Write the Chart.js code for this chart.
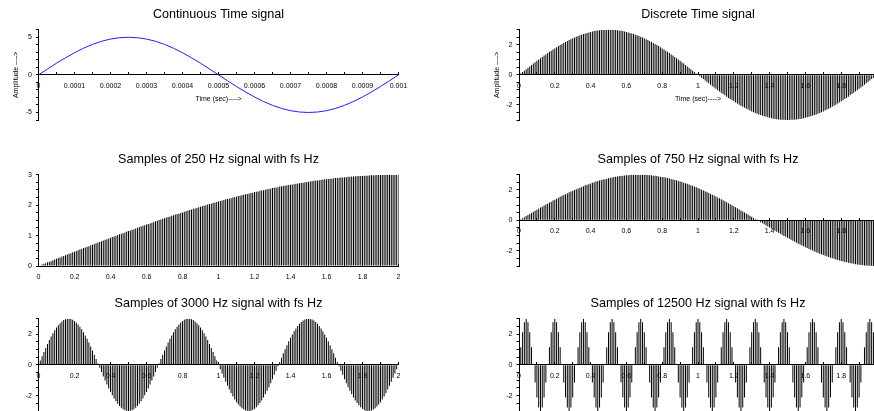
<!DOCTYPE html>
<html>
<head>
<meta charset="utf-8">
<script src="https://cdn.jsdelivr.net/npm/chart.js@4.4.1/dist/chart.umd.min.js"></script>
<style>
  html, body { margin: 0; padding: 0; background: #fff; overflow: hidden; width: 874px; height: 411px; }
  canvas { position: absolute; }
</style>
</head>
<body>
<canvas id="c1" width="440" height="140" style="left:0px;top:0px"></canvas>
<canvas id="c2" width="440" height="140" style="left:440px;top:0px"></canvas>
<canvas id="c3" width="440" height="140" style="left:0px;top:145px"></canvas>
<canvas id="c4" width="440" height="140" style="left:440px;top:145px"></canvas>
<canvas id="c5" width="440" height="140" style="left:0px;top:289px"></canvas>
<canvas id="c6" width="440" height="140" style="left:440px;top:289px"></canvas>
<script>
// sample instants (sec) shared by the five stem plots
const tSample = [
  0, 0.01, 0.02, 0.03, 0.04, 0.05, 0.06, 0.07, 0.08, 0.09,
  0.1, 0.11, 0.12, 0.13, 0.14, 0.15, 0.16, 0.17, 0.18, 0.19,
  0.2, 0.21, 0.22, 0.23, 0.24, 0.25, 0.26, 0.27, 0.28, 0.29,
  0.3, 0.31, 0.32, 0.33, 0.34, 0.35, 0.36, 0.37, 0.38, 0.39,
  0.4, 0.41, 0.42, 0.43, 0.44, 0.45, 0.46, 0.47, 0.48, 0.49,
  0.5, 0.51, 0.52, 0.53, 0.54, 0.55, 0.56, 0.57, 0.58, 0.59,
  0.6, 0.61, 0.62, 0.63, 0.64, 0.65, 0.66, 0.67, 0.68, 0.69,
  0.7, 0.71, 0.72, 0.73, 0.74, 0.75, 0.76, 0.77, 0.78, 0.79,
  0.8, 0.81, 0.82, 0.83, 0.84, 0.85, 0.86, 0.87, 0.88, 0.89,
  0.9, 0.91, 0.92, 0.93, 0.94, 0.95, 0.96, 0.97, 0.98, 0.99,
  1, 1.01, 1.02, 1.03, 1.04, 1.05, 1.06, 1.07, 1.08, 1.09,
  1.1, 1.11, 1.12, 1.13, 1.14, 1.15, 1.16, 1.17, 1.18, 1.19,
  1.2, 1.21, 1.22, 1.23, 1.24, 1.25, 1.26, 1.27, 1.28, 1.29,
  1.3, 1.31, 1.32, 1.33, 1.34, 1.35, 1.36, 1.37, 1.38, 1.39,
  1.4, 1.41, 1.42, 1.43, 1.44, 1.45, 1.46, 1.47, 1.48, 1.49,
  1.5, 1.51, 1.52, 1.53, 1.54, 1.55, 1.56, 1.57, 1.58, 1.59,
  1.6, 1.61, 1.62, 1.63, 1.64, 1.65, 1.66, 1.67, 1.68, 1.69,
  1.7, 1.71, 1.72, 1.73, 1.74, 1.75, 1.76, 1.77, 1.78, 1.79,
  1.8, 1.81, 1.82, 1.83, 1.84, 1.85, 1.86, 1.87, 1.88, 1.89,
  1.9, 1.91, 1.92, 1.93, 1.94, 1.95, 1.96, 1.97, 1.98, 1.99,
  2
];

const sigDiscrete = [
  0, 0.09, 0.19, 0.28, 0.38, 0.47, 0.56, 0.65, 0.75, 0.84,
  0.93, 1.02, 1.10, 1.19, 1.28, 1.36, 1.45, 1.53, 1.61, 1.69,
  1.76, 1.84, 1.91, 1.98, 2.05, 2.12, 2.19, 2.25, 2.31, 2.37,
  2.43, 2.48, 2.53, 2.58, 2.63, 2.67, 2.71, 2.75, 2.79, 2.82,
  2.85, 2.88, 2.91, 2.93, 2.95, 2.96, 2.98, 2.99, 2.99, 3,
  3, 3, 2.99, 2.99, 2.98, 2.96, 2.95, 2.93, 2.91, 2.88,
  2.85, 2.82, 2.79, 2.75, 2.71, 2.67, 2.63, 2.58, 2.53, 2.48,
  2.43, 2.37, 2.31, 2.25, 2.19, 2.12, 2.05, 1.98, 1.91, 1.84,
  1.76, 1.69, 1.61, 1.53, 1.45, 1.36, 1.28, 1.19, 1.10, 1.02,
  0.93, 0.84, 0.75, 0.65, 0.56, 0.47, 0.38, 0.28, 0.19, 0.09,
  0, -0.09, -0.19, -0.28, -0.38, -0.47, -0.56, -0.65, -0.75, -0.84,
  -0.93, -1.02, -1.10, -1.19, -1.28, -1.36, -1.45, -1.53, -1.61, -1.69,
  -1.76, -1.84, -1.91, -1.98, -2.05, -2.12, -2.19, -2.25, -2.31, -2.37,
  -2.43, -2.48, -2.53, -2.58, -2.63, -2.67, -2.71, -2.75, -2.79, -2.82,
  -2.85, -2.88, -2.91, -2.93, -2.95, -2.96, -2.98, -2.99, -2.99, -3,
  -3, -3, -2.99, -2.99, -2.98, -2.96, -2.95, -2.93, -2.91, -2.88,
  -2.85, -2.82, -2.79, -2.75, -2.71, -2.67, -2.63, -2.58, -2.53, -2.48,
  -2.43, -2.37, -2.31, -2.25, -2.19, -2.12, -2.05, -1.98, -1.91, -1.84,
  -1.76, -1.69, -1.61, -1.53, -1.45, -1.36, -1.28, -1.19, -1.10, -1.02,
  -0.93, -0.84, -0.75, -0.65, -0.56, -0.47, -0.38, -0.28, -0.19, -0.09,
  0
];

const sig250 = [
  0, 0.02, 0.05, 0.07, 0.09, 0.12, 0.14, 0.16, 0.19, 0.21,
  0.24, 0.26, 0.28, 0.31, 0.33, 0.35, 0.38, 0.40, 0.42, 0.45,
  0.47, 0.49, 0.52, 0.54, 0.56, 0.59, 0.61, 0.63, 0.65, 0.68,
  0.70, 0.72, 0.75, 0.77, 0.79, 0.81, 0.84, 0.86, 0.88, 0.90,
  0.93, 0.95, 0.97, 0.99, 1.02, 1.04, 1.06, 1.08, 1.10, 1.13,
  1.15, 1.17, 1.19, 1.21, 1.23, 1.26, 1.28, 1.30, 1.32, 1.34,
  1.36, 1.38, 1.40, 1.42, 1.45, 1.47, 1.49, 1.51, 1.53, 1.55,
  1.57, 1.59, 1.61, 1.63, 1.65, 1.67, 1.69, 1.71, 1.72, 1.74,
  1.76, 1.78, 1.80, 1.82, 1.84, 1.86, 1.88, 1.89, 1.91, 1.93,
  1.95, 1.97, 1.98, 2.00, 2.02, 2.04, 2.05, 2.07, 2.09, 2.10,
  2.12, 2.14, 2.15, 2.17, 2.19, 2.20, 2.22, 2.23, 2.25, 2.27,
  2.28, 2.30, 2.31, 2.33, 2.34, 2.36, 2.37, 2.38, 2.40, 2.41,
  2.43, 2.44, 2.45, 2.47, 2.48, 2.49, 2.51, 2.52, 2.53, 2.55,
  2.56, 2.57, 2.58, 2.59, 2.61, 2.62, 2.63, 2.64, 2.65, 2.66,
  2.67, 2.68, 2.69, 2.70, 2.71, 2.72, 2.73, 2.74, 2.75, 2.76,
  2.77, 2.78, 2.79, 2.80, 2.81, 2.81, 2.82, 2.83, 2.84, 2.85,
  2.85, 2.86, 2.87, 2.87, 2.88, 2.89, 2.89, 2.90, 2.91, 2.91,
  2.92, 2.92, 2.93, 2.93, 2.94, 2.94, 2.95, 2.95, 2.96, 2.96,
  2.96, 2.97, 2.97, 2.97, 2.98, 2.98, 2.98, 2.98, 2.99, 2.99,
  2.99, 2.99, 2.99, 3, 3, 3, 3, 3, 3, 3,
  3
];

const sig750 = [
  0, 0.07, 0.14, 0.21, 0.28, 0.35, 0.42, 0.49, 0.56, 0.63,
  0.70, 0.77, 0.84, 0.90, 0.97, 1.04, 1.10, 1.17, 1.23, 1.30,
  1.36, 1.42, 1.49, 1.55, 1.61, 1.67, 1.72, 1.78, 1.84, 1.89,
  1.95, 2.00, 2.05, 2.10, 2.15, 2.20, 2.25, 2.30, 2.34, 2.38,
  2.43, 2.47, 2.51, 2.55, 2.58, 2.62, 2.65, 2.68, 2.71, 2.74,
  2.77, 2.80, 2.82, 2.85, 2.87, 2.89, 2.91, 2.92, 2.94, 2.95,
  2.96, 2.97, 2.98, 2.99, 2.99, 3, 3, 3, 3, 3,
  2.99, 2.98, 2.98, 2.97, 2.96, 2.94, 2.93, 2.91, 2.89, 2.87,
  2.85, 2.83, 2.81, 2.78, 2.75, 2.72, 2.69, 2.66, 2.63, 2.59,
  2.56, 2.52, 2.48, 2.44, 2.40, 2.36, 2.31, 2.27, 2.22, 2.17,
  2.12, 2.07, 2.02, 1.97, 1.91, 1.86, 1.80, 1.74, 1.69, 1.63,
  1.57, 1.51, 1.45, 1.38, 1.32, 1.26, 1.19, 1.13, 1.06, 0.99,
  0.93, 0.86, 0.79, 0.72, 0.65, 0.59, 0.52, 0.45, 0.38, 0.31,
  0.24, 0.16, 0.09, 0.02, -0.05, -0.12, -0.19, -0.26, -0.33, -0.40,
  -0.47, -0.54, -0.61, -0.68, -0.75, -0.81, -0.88, -0.95, -1.02, -1.08,
  -1.15, -1.21, -1.28, -1.34, -1.40, -1.47, -1.53, -1.59, -1.65, -1.71,
  -1.76, -1.82, -1.88, -1.93, -1.98, -2.04, -2.09, -2.14, -2.19, -2.23,
  -2.28, -2.33, -2.37, -2.41, -2.45, -2.49, -2.53, -2.57, -2.61, -2.64,
  -2.67, -2.70, -2.73, -2.76, -2.79, -2.81, -2.84, -2.86, -2.88, -2.90,
  -2.92, -2.93, -2.95, -2.96, -2.97, -2.98, -2.99, -2.99, -3, -3,
  -3
];

const sig3000 = [
  0, 0.28, 0.56, 0.84, 1.10, 1.36, 1.61, 1.84, 2.05, 2.25,
  2.43, 2.58, 2.71, 2.82, 2.91, 2.96, 2.99, 3, 2.98, 2.93,
  2.85, 2.75, 2.63, 2.48, 2.31, 2.12, 1.91, 1.69, 1.45, 1.19,
  0.93, 0.65, 0.38, 0.09, -0.19, -0.47, -0.75, -1.02, -1.28, -1.53,
  -1.76, -1.98, -2.19, -2.37, -2.53, -2.67, -2.79, -2.88, -2.95, -2.99,
  -3, -2.99, -2.95, -2.88, -2.79, -2.67, -2.53, -2.37, -2.19, -1.98,
  -1.76, -1.53, -1.28, -1.02, -0.75, -0.47, -0.19, 0.09, 0.38, 0.65,
  0.93, 1.19, 1.45, 1.69, 1.91, 2.12, 2.31, 2.48, 2.63, 2.75,
  2.85, 2.93, 2.98, 3, 2.99, 2.96, 2.91, 2.82, 2.71, 2.58,
  2.43, 2.25, 2.05, 1.84, 1.61, 1.36, 1.10, 0.84, 0.56, 0.28,
  0, -0.28, -0.56, -0.84, -1.10, -1.36, -1.61, -1.84, -2.05, -2.25,
  -2.43, -2.58, -2.71, -2.82, -2.91, -2.96, -2.99, -3, -2.98, -2.93,
  -2.85, -2.75, -2.63, -2.48, -2.31, -2.12, -1.91, -1.69, -1.45, -1.19,
  -0.93, -0.65, -0.38, -0.09, 0.19, 0.47, 0.75, 1.02, 1.28, 1.53,
  1.76, 1.98, 2.19, 2.37, 2.53, 2.67, 2.79, 2.88, 2.95, 2.99,
  3, 2.99, 2.95, 2.88, 2.79, 2.67, 2.53, 2.37, 2.19, 1.98,
  1.76, 1.53, 1.28, 1.02, 0.75, 0.47, 0.19, -0.09, -0.38, -0.65,
  -0.93, -1.19, -1.45, -1.69, -1.91, -2.12, -2.31, -2.48, -2.63, -2.75,
  -2.85, -2.93, -2.98, -3, -2.99, -2.96, -2.91, -2.82, -2.71, -2.58,
  -2.43, -2.25, -2.05, -1.84, -1.61, -1.36, -1.10, -0.84, -0.56, -0.28,
  0
];

const sig12500 = [
  0, 1.15, 2.12, 2.77, 3, 2.77, 2.12, 1.15, 0, -1.15, -2.12, -2.77, -3, -2.77, -2.12, -1.15,
  0, 1.15, 2.12, 2.77, 3, 2.77, 2.12, 1.15, 0, -1.15, -2.12, -2.77, -3, -2.77, -2.12, -1.15,
  0, 1.15, 2.12, 2.77, 3, 2.77, 2.12, 1.15, 0, -1.15, -2.12, -2.77, -3, -2.77, -2.12, -1.15,
  0, 1.15, 2.12, 2.77, 3, 2.77, 2.12, 1.15, 0, -1.15, -2.12, -2.77, -3, -2.77, -2.12, -1.15,
  0, 1.15, 2.12, 2.77, 3, 2.77, 2.12, 1.15, 0, -1.15, -2.12, -2.77, -3, -2.77, -2.12, -1.15,
  0, 1.15, 2.12, 2.77, 3, 2.77, 2.12, 1.15, 0, -1.15, -2.12, -2.77, -3, -2.77, -2.12, -1.15,
  0, 1.15, 2.12, 2.77, 3, 2.77, 2.12, 1.15, 0, -1.15, -2.12, -2.77, -3, -2.77, -2.12, -1.15,
  0, 1.15, 2.12, 2.77, 3, 2.77, 2.12, 1.15, 0, -1.15, -2.12, -2.77, -3, -2.77, -2.12, -1.15,
  0, 1.15, 2.12, 2.77, 3, 2.77, 2.12, 1.15, 0, -1.15, -2.12, -2.77, -3, -2.77, -2.12, -1.15,
  0, 1.15, 2.12, 2.77, 3, 2.77, 2.12, 1.15, 0, -1.15, -2.12, -2.77, -3, -2.77, -2.12, -1.15,
  0, 1.15, 2.12, 2.77, 3, 2.77, 2.12, 1.15, 0, -1.15, -2.12, -2.77, -3, -2.77, -2.12, -1.15,
  0, 1.15, 2.12, 2.77, 3, 2.77, 2.12, 1.15, 0, -1.15, -2.12, -2.77, -3, -2.77, -2.12, -1.15,
  0, 1.15, 2.12, 2.77, 3, 2.77, 2.12, 1.15, 0
];

// continuous signal, 0 .. 1 ms
const tCont = [
  0, 0.000025, 0.00005, 0.000075, 0.0001, 0.000125, 0.00015, 0.000175, 0.0002, 0.000225,
  0.00025, 0.000275, 0.0003, 0.000325, 0.00035, 0.000375, 0.0004, 0.000425, 0.00045, 0.000475,
  0.0005, 0.000525, 0.00055, 0.000575, 0.0006, 0.000625, 0.00065, 0.000675, 0.0007, 0.000725,
  0.00075, 0.000775, 0.0008, 0.000825, 0.00085, 0.000875, 0.0009, 0.000925, 0.00095, 0.000975,
  0.001
];
const sigCont = [
  0, 0.78, 1.55, 2.27, 2.94, 3.54, 4.05, 4.46, 4.76, 4.94,
  5, 4.94, 4.76, 4.46, 4.05, 3.54, 2.94, 2.27, 1.55, 0.78,
  0, -0.78, -1.55, -2.27, -2.94, -3.54, -4.05, -4.46, -4.76, -4.94,
  -5, -4.94, -4.76, -4.46, -4.05, -3.54, -2.94, -2.27, -1.55, -0.78,
  0
];

const titles = [
  'Continuous Time signal',
  'Discrete Time signal',
  'Samples of 250 Hz signal with fs Hz',
  'Samples of 750 Hz signal with fs Hz',
  'Samples of 3000 Hz signal with fs Hz',
  'Samples of 12500 Hz signal with fs Hz',
];
const xAxisTitle = 'Time (sec)---->';
const yAxisTitle = 'Amplitude ---->';

const FONT = "'Liberation Sans', Arial, Helvetica, sans-serif";

// axis captions sit relative to the zero line, like scilab does it
const axisCaptions = {
  id: 'axisCaptions',
  afterDraw(chart, args, opts) {
    if (!opts.show) return;
    const { ctx, chartArea: a, scales } = chart;
    const y0 = scales.y.getPixelForValue(0);
    ctx.save();
    ctx.font = `7px ${FONT}`;
    ctx.fillStyle = '#000';
    ctx.textAlign = 'center';
    ctx.textBaseline = 'middle';
    ctx.fillText(xAxisTitle, (a.left + a.right) / 2, y0 + 24);
    ctx.translate(a.left - 22, (a.top + a.bottom) / 2);
    ctx.rotate(-Math.PI / 2);
    ctx.fillText(yAxisTitle, 0, 0);
    ctx.restore();
  },
};

const tickFont = { family: FONT, size: 7 };
const fmt = v => String(+v.toFixed(5));

function makePlot(id, title, xs, ys, o) {
  const isLine = o.kind === 'line';
  const side = o.col === 'L' ? { l: 8.5, r: 41.5 } : { l: 49, r: 3 };
  return new Chart(document.getElementById(id), {
    type: isLine ? 'line' : 'bar',
    data: {
      datasets: [{
        data: xs.map((x, i) => ({ x, y: ys[i] })),
        backgroundColor: '#000',
        borderColor: isLine ? '#1f1fff' : '#000',
        borderWidth: isLine ? 1 : 0,
        barThickness: 1,
        inflateAmount: 0,
        pointRadius: 0,
        tension: 0,
      }],
    },
    plugins: [axisCaptions],
    options: {
      responsive: false,
      animation: false,
      events: [],
      layout: { padding: { left: side.l, right: side.r, top: 0, bottom: o.padBottom } },
      plugins: {
        legend: { display: false },
        tooltip: { enabled: false },
        title: {
          display: true,
          text: title,
          fullSize: false,
          color: '#000',
          font: { family: FONT, size: 12.6, weight: 'normal' },
          padding: { top: 7.2, bottom: 7.4 },
        },
        axisCaptions: { show: !!o.captions },
      },
      scales: {
        x: {
          type: 'linear',
          position: { y: 0 },
          min: 0,
          max: o.xMax,
          offset: false,
          afterFit: s => { s.height = 0; s.paddingLeft = 0; s.paddingRight = 0; },
          grid: { drawOnChartArea: false, offset: false, color: '#000', tickLength: -3 },
          border: { color: '#000', width: 1 },
          ticks: {
            stepSize: o.xStep,
            autoSkip: false,
            maxRotation: 0,
            minRotation: 0,
            padding: 9.8,
            color: '#000',
            font: tickFont,
            callback: (v, i) => (i % 2 ? '' : fmt(v)),
          },
        },
        y: {
          min: o.yMin,
          max: o.yMax,
          afterFit: s => { s.width = 30; },
          grid: { drawOnChartArea: false, color: '#000', tickLength: 2.5 },
          border: { color: '#000', width: 1 },
          ticks: {
            stepSize: o.yStep,
            autoSkip: false,
            padding: 4,
            color: '#000',
            font: tickFont,
            callback: v => (Math.abs(v % o.yMajor) < 1e-9 ? String(v) : ''),
          },
        },
      },
    },
  });
}

makePlot('c1', titles[0], tCont, sigCont,
  { kind: 'line', col: 'L', padBottom: 20, xMax: 0.001, xStep: 0.00005, yMin: -6, yMax: 6, yStep: 1, yMajor: 5, captions: true });
makePlot('c2', titles[1], tSample, sigDiscrete,
  { col: 'R', padBottom: 20, xMax: 2, xStep: 0.1, yMin: -3, yMax: 3, yStep: 0.5, yMajor: 2, captions: true });
makePlot('c3', titles[2], tSample, sig250,
  { col: 'L', padBottom: 19, xMax: 2, xStep: 0.1, yMin: 0, yMax: 3, yStep: 0.25, yMajor: 1 });
makePlot('c4', titles[3], tSample, sig750,
  { col: 'R', padBottom: 19, xMax: 2, xStep: 0.1, yMin: -3, yMax: 3, yStep: 0.5, yMajor: 2 });
makePlot('c5', titles[4], tSample, sig3000,
  { col: 'L', padBottom: 18, xMax: 2, xStep: 0.1, yMin: -3, yMax: 3, yStep: 0.5, yMajor: 2 });
makePlot('c6', titles[5], tSample, sig12500,
  { col: 'R', padBottom: 18, xMax: 2, xStep: 0.1, yMin: -3, yMax: 3, yStep: 0.5, yMajor: 2 });
</script>
</body>
</html>
